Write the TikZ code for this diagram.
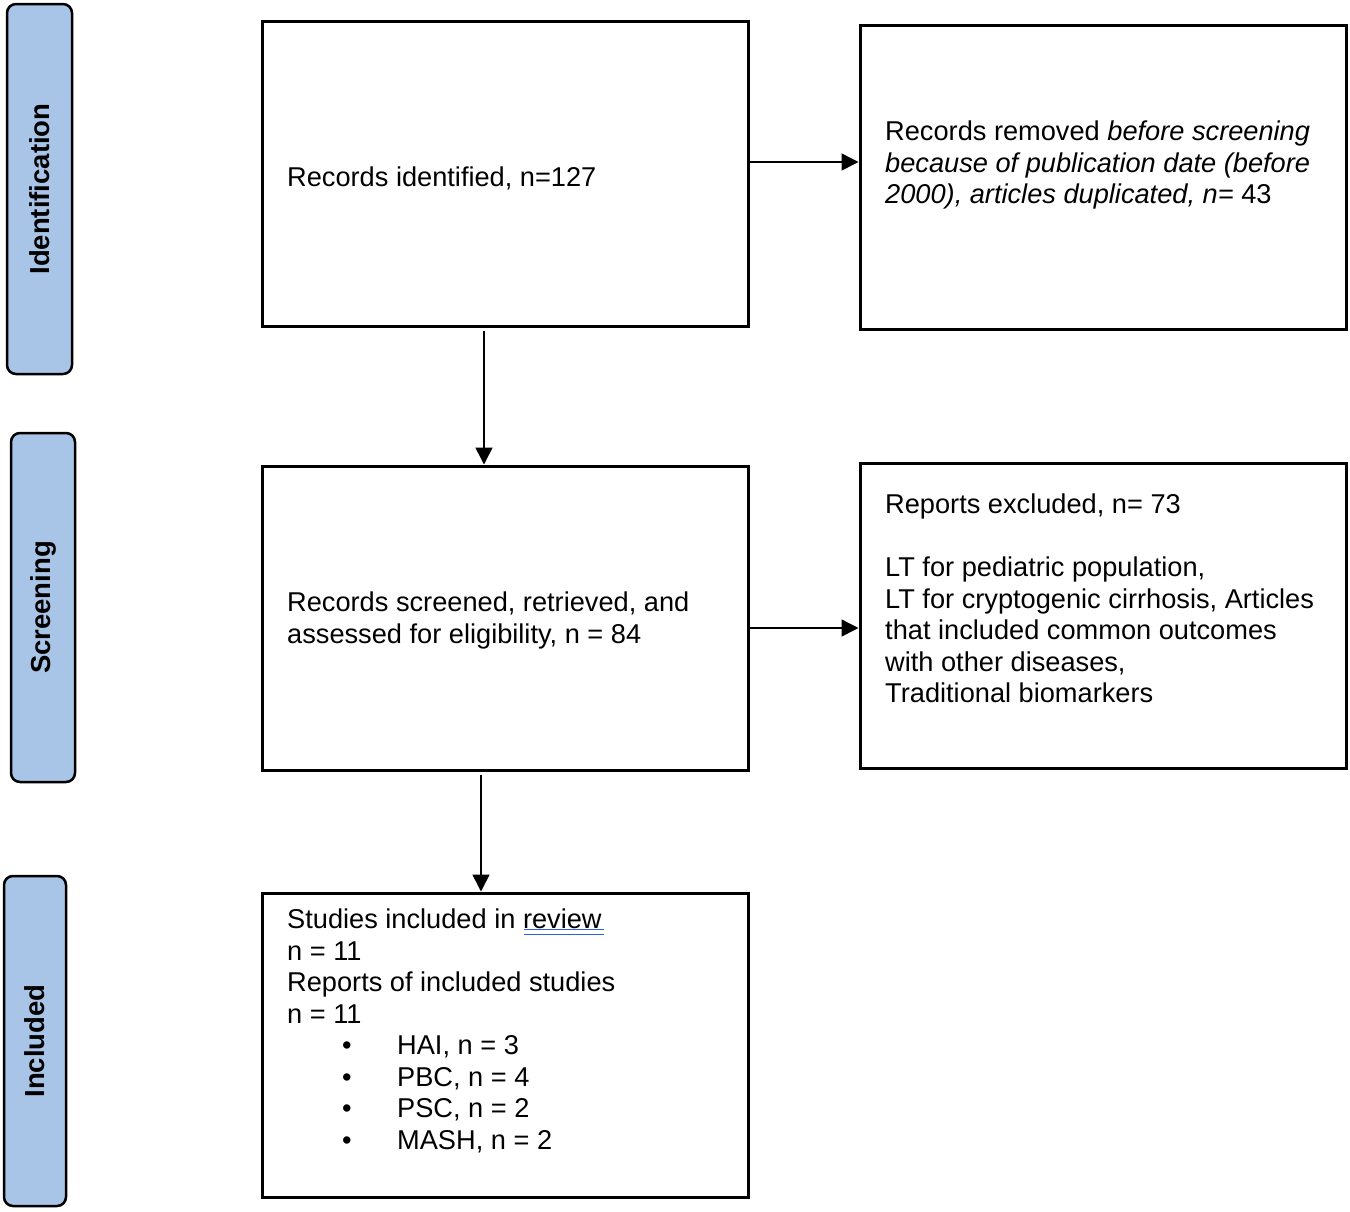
\documentclass[tikz,border=0pt]{standalone}
\usepackage{fontspec}
\setmainfont{Liberation Sans}
\usetikzlibrary{arrows.meta}
\definecolor{barblue}{RGB}{168,196,230}
\definecolor{spellblue}{RGB}{45,95,225}
\begin{document}
\begin{tikzpicture}[x=1pt,y=-1pt,
  box/.style={draw=black, line width=3pt, rectangle, minimum width=486pt, inner sep=0pt},
  bar/.style={draw=black, line width=2.5pt, fill=barblue, rounded corners=9pt, inner sep=0pt},
  barlabel/.style={rotate=90, font=\fontsize{27.5}{32}\selectfont\bfseries, inner sep=0pt},
  txt/.style={anchor=north west, inner sep=0pt, align=left, font=\fontsize{27.2}{31.5}\selectfont},
  arr/.style={line width=1.5pt, -{Triangle[width=17pt,length=17pt]}}]
\useasboundingbox (0,0) rectangle (1350,1211);
% phase bars
\node[bar, minimum width=65pt, minimum height=370pt] (p1) at (39.5,189) {};
\node[barlabel] (p1l) at (p1.center) {Identification};
\node[bar, minimum width=64pt, minimum height=349pt] (p2) at (43,607.5) {};
\node[barlabel] (p2l) at (p2.center) {Screening};
\node[bar, minimum width=62pt, minimum height=330pt] (p3) at (35,1041) {};
\node[barlabel] (p3l) at (p3.center) {Included};
% boxes
\node[box, minimum height=305pt] (b1) at (505,173.5) {};
\node[box, minimum height=304pt] (b2) at (1103,177) {};
\node[box, minimum height=304pt] (b3) at (505,618) {};
\node[box, minimum height=305pt] (b4) at (1103,615.5) {};
\node[box, minimum height=304pt] (b5) at (505,1045) {};
% texts
\node[txt] (t1) at (287,164.5) {\strut Records identified, n=127};
\node[txt] (t2) at (885,118.5) {\strut Records removed \textit{before screening}\\
\textit{because of publication date (before}\\
\textit{2000), articles duplicated, n=} 43};
\node[txt] (t3) at (287,589.5) {\strut Records screened, retrieved, and\\
assessed for eligibility, n = 84};
\node[txt] (t4) at (885,491.5) {\strut Reports excluded, n= 73\\[31.5pt]
LT for pediatric population,\\
LT for cryptogenic cirrhosis, Articles\\
that included common outcomes\\
with other diseases,\\
Traditional biomarkers};
\node[txt] (t5) at (287,906.5) {\strut Studies included in review\\
n = 11\\
Reports of included studies\\
n = 11\\
\hspace*{55pt}\makebox[55pt][l]{•}HAI, n = 3\\
\hspace*{55pt}\makebox[55pt][l]{•}PBC, n = 4\\
\hspace*{55pt}\makebox[55pt][l]{•}PSC, n = 2\\
\hspace*{55pt}\makebox[55pt][l]{•}MASH, n = 2};
% spell-check underline
\draw[spellblue, line width=1.6pt] (524,929.5) -- (604,929.5);
\draw[spellblue, line width=1.6pt] (524,934.5) -- (604,934.5);
% arrows
\draw[arr] ([yshift=11.5pt]b1.east) -- ([yshift=11.5pt]b1.east -| b2.west);
\draw[arr] ([xshift=-21pt,yshift=-3pt]b1.south) -- ([xshift=-21pt]b1.south |- b3.north);
\draw[arr] ([yshift=-10pt]b3.east) -- ([yshift=-10pt]b3.east -| b4.west);
\draw[arr] ([xshift=-24pt,yshift=-3pt]b3.south) -- ([xshift=-24pt]b3.south |- b5.north);
\end{tikzpicture}
\end{document}
